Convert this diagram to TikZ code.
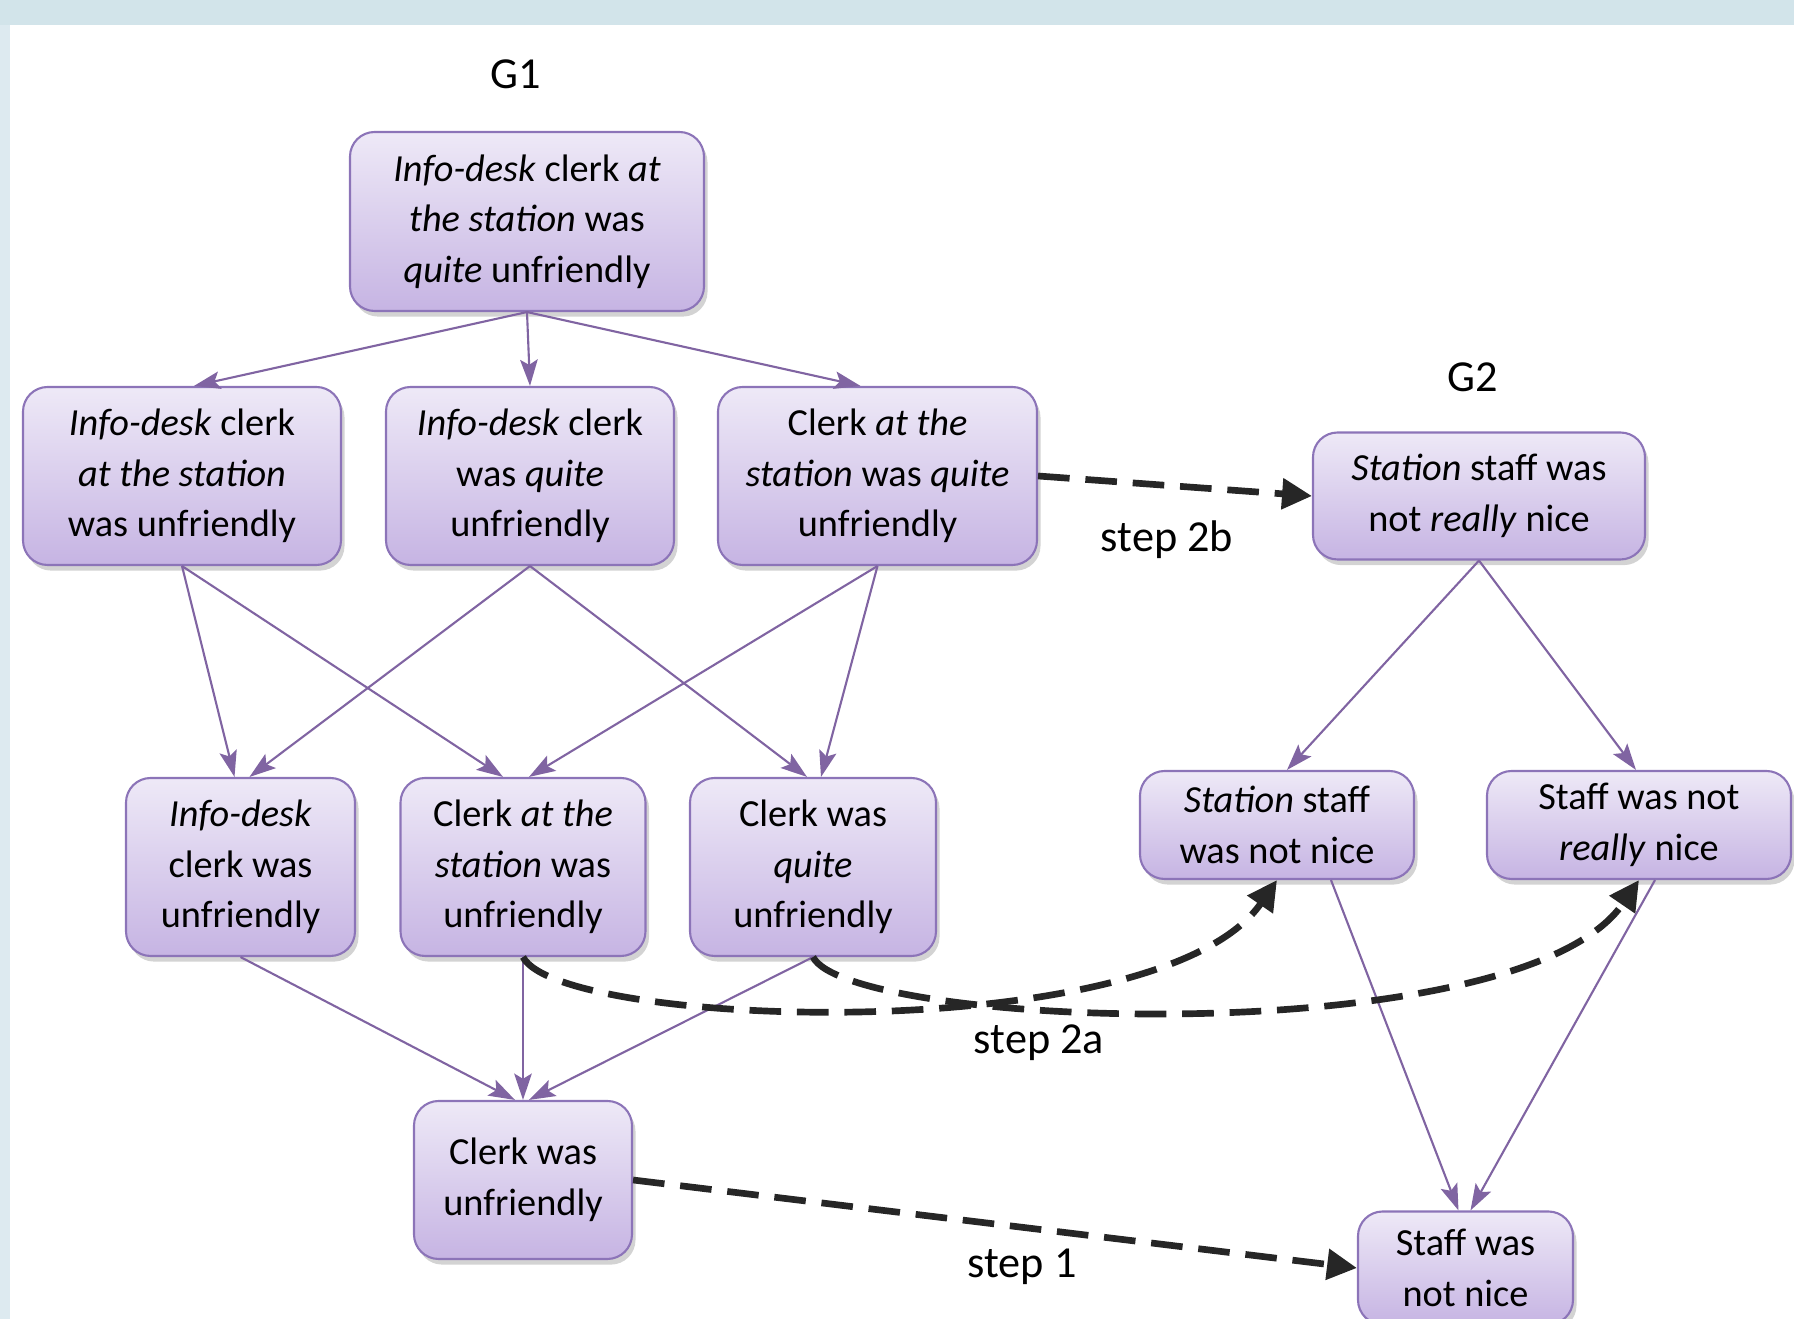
\documentclass[tikz,border=0pt]{standalone}
\usepackage{fontspec}
\setmainfont{Carlito}
\usepackage{tikz}
\usetikzlibrary{arrows.meta,shadows}
\definecolor{boxtop}{HTML}{EEE9F7}
\definecolor{boxbot}{HTML}{C6B4E3}
\definecolor{boxline}{HTML}{8C74B8}
\definecolor{edgeline}{HTML}{8064A2}
\definecolor{bandblue}{HTML}{D2E4EA}
\definecolor{stripblue}{HTML}{DDEAF0}

\begin{document}
\begin{tikzpicture}[
  sent/.style={draw=boxline, line width=0.6pt, rounded corners=7pt,
    top color=boxtop, bottom color=boxbot, align=center, inner sep=2pt,
    font=\fontsize{10.9}{14.4}\selectfont,
    drop shadow={shadow xshift=1pt, shadow yshift=-1.6pt, opacity=0.35}},
  gen/.style={draw=edgeline, line width=0.6pt,
    -{Stealth[length=7.5pt,width=5pt,inset=1.5pt]}},
  stepto/.style={draw=black!85, line width=1.9pt, dash pattern=on 9pt off 4.5pt,
    -{Triangle[length=8.5pt,width=8.5pt]}},
  tag/.style={font=\fontsize{12.6}{15}\selectfont}
]
\path[use as bounding box] (0,0) rectangle (17.94,13.19);
\clip (0,0) rectangle (17.94,13.19);
\fill[bandblue] (0,12.94) rectangle (17.94,13.19);
\fill[stripblue] (0,0) rectangle (0.10,12.94);

% G1
\node[tag] (g1) at (5.16,12.45) {G1};
\node[sent, minimum width=3.54cm, minimum height=1.79cm] (g1top) at (5.27,10.975)
  {\textit{Info-desk} clerk \textit{at}\\ \textit{the station} was\\ \textit{quite} unfriendly};

\node[sent, minimum width=3.18cm, minimum height=1.78cm] (g1l) at (1.82,8.43)
  {\textit{Info-desk} clerk\\ \textit{at the station}\\ was unfriendly};
\node[sent, minimum width=2.88cm, minimum height=1.78cm] (g1m) at (5.30,8.43)
  {\textit{Info-desk} clerk\\ was \textit{quite}\\ unfriendly};
\node[sent, minimum width=3.19cm, minimum height=1.78cm] (g1r) at (8.775,8.43)
  {Clerk \textit{at the}\\ \textit{station} was \textit{quite}\\ unfriendly};

\node[sent, minimum width=2.29cm, minimum height=1.78cm] (g1dl) at (2.405,4.52)
  {\textit{Info-desk}\\ clerk was\\ unfriendly};
\node[sent, minimum width=2.45cm, minimum height=1.78cm] (g1dm) at (5.23,4.52)
  {Clerk \textit{at the}\\ \textit{station} was\\ unfriendly};
\node[sent, minimum width=2.46cm, minimum height=1.78cm] (g1dr) at (8.13,4.52)
  {Clerk was\\ \textit{quite}\\ unfriendly};

\node[sent, minimum width=2.18cm, minimum height=1.58cm] (g1bot) at (5.23,1.39)
  {Clerk was\\ unfriendly};

% G2
\node[tag] (g2) at (14.725,9.415) {G2};
\node[sent, minimum width=3.32cm, minimum height=1.27cm] (g2top) at (14.79,8.23)
  {\textit{Station} staff was\\ not \textit{really} nice};
\node[sent, minimum width=2.74cm, minimum height=1.08cm] (g2l) at (12.77,4.94)
  {\textit{Station} staff\\ was not nice};
\node[sent, minimum width=3.04cm, minimum height=1.08cm] (g2r) at (16.39,4.94)
  {Staff was not\\ \textit{really} nice};
\node[sent, minimum width=2.15cm, minimum height=1.13cm] (g2bot) at (14.655,0.51)
  {Staff was\\ not nice};

% generalisation edges
\draw[gen] (g1top.south) -- ([xshift=0.12cm]g1l.north);
\draw[gen] (g1top.south) -- (g1m.north);
\draw[gen] (g1top.south) -- ([xshift=-0.17cm]g1r.north);

\draw[gen] (g1l.south) -- ([xshift=-0.06cm]g1dl.north);
\draw[gen] (g1l.south) -- ([xshift=-0.2cm]g1dm.north);
\draw[gen] (g1m.south) -- ([xshift=0.09cm]g1dl.north);
\draw[gen] (g1m.south) -- ([xshift=-0.06cm]g1dr.north);
\draw[gen] (g1r.south) -- ([xshift=0.06cm]g1dm.north);
\draw[gen] (g1r.south) -- ([xshift=0.08cm]g1dr.north);

\draw[gen] (g1dl.south) -- ([xshift=-0.08cm]g1bot.north);
\draw[gen] (g1dm.south) -- (g1bot.north);
\draw[gen] (g1dr.south) -- ([xshift=0.06cm]g1bot.north);

\draw[gen] (g2top.south) -- ([xshift=0.1cm]g2l.north);
\draw[gen] (g2top.south) -- ([xshift=-0.03cm]g2r.north);
\draw[gen] ([xshift=0.54cm]g2l.south) -- ([xshift=-0.07cm]g2bot.north);
\draw[gen] ([xshift=0.16cm]g2r.south) -- ([xshift=0.05cm]g2bot.north);

% steps
\draw[stepto] (g1r.east) -- (g2top.west);
\node[tag] (s2b) at (11.67,7.79) {step 2b};

\draw[stepto] (g1dm.south) .. controls (5.6,2.9) and (11.6,2.7) .. (g2l.south);
\draw[stepto] (g1dr.south) .. controls (8.5,2.9) and (15.2,2.65) .. (g2r.south);
\node[tag] (s2a) at (10.39,2.76) {step 2a};

\draw[stepto] (g1bot.east) -- (g2bot.west);
\node[tag] (s1) at (10.22,0.52) {step 1};
\end{tikzpicture}
\end{document}
